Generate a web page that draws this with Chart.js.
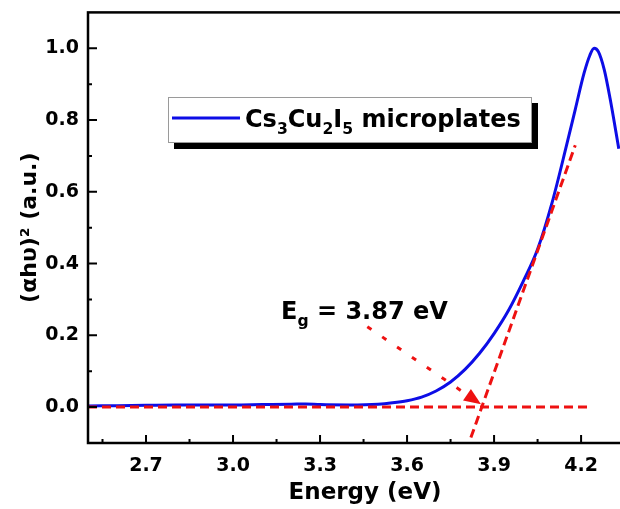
<!DOCTYPE html>
<html>
<head>
<meta charset="utf-8">
<script src="https://cdn.jsdelivr.net/npm/chart.js@4.4.1/dist/chart.umd.min.js"></script>
<style>
  html, body { margin: 0; padding: 0; background: #fff; overflow: hidden; }
</style>
</head>
<body>
<canvas id="taucChart" width="642" height="509"></canvas>
<script>
// Tauc plot data: photon energy (eV) vs normalised (αhυ)²
const energy = [2.50, 2.60, 2.70, 2.80, 2.90, 3.00, 3.10, 3.20, 3.25, 3.30, 3.40, 3.50, 3.55, 3.60, 3.65, 3.70, 3.75, 3.80, 3.85, 3.90, 3.95, 4.00, 4.05, 4.10, 4.15, 4.18, 4.21, 4.23, 4.245, 4.26, 4.28, 4.30, 4.33];
const absorbance = [0.003, 0.004, 0.005, 0.006, 0.006, 0.006, 0.007, 0.008, 0.009, 0.007, 0.006, 0.008, 0.012, 0.018, 0.028, 0.045, 0.070, 0.105, 0.150, 0.205, 0.270, 0.350, 0.440, 0.570, 0.730, 0.830, 0.930, 0.980, 1.000, 0.990, 0.940, 0.860, 0.720];

// linear fit of the absorption edge and the baseline
const tangentX = [3.82, 4.18];
const tangentY = [-0.085, 0.73];
const baselineX = [2.50, 4.235];
const baselineY = [0, 0];

// pointer from the label to the intercept
const arrowX = [3.463, 3.855];
const arrowY = [0.224, 0.008];
const bandGap = "3.87";

// axis ticks
const xMajorTicks = [2.7, 3.0, 3.3, 3.6, 3.9, 4.2];
const xMinorTicks = [2.55, 2.85, 3.15, 3.45, 3.75, 4.05, 4.35];
const yMajorTicks = [0.0, 0.2, 0.4, 0.6, 0.8, 1.0];
const yMinorTicks = [0.1, 0.3, 0.5, 0.7, 0.9];

const sampleName = [{ t: "Cs" }, { t: "3", sub: true }, { t: "Cu" }, { t: "2", sub: true }, { t: "I" }, { t: "5", sub: true }, { t: " microplates" }];

const FONT = "'DejaVu Sans', sans-serif";
const BLUE = "#0d0de6";
const RED = "#ee1111";

const toPoints = (xs, ys) => xs.map((x, i) => ({ x, y: ys[i] }));

// text with subscripts, returns end x
function drawRich(ctx, parts, x, y, size) {
    ctx.textBaseline = "alphabetic";
    ctx.textAlign = "left";
    parts.forEach(p => {
        const s = p.sub ? size * 0.65 : size;
        ctx.font = `bold ${s}px ${FONT}`;
        ctx.fillText(p.t, x, p.sub ? y + size * 0.28 : y);
        x += ctx.measureText(p.t).width;
    });
    return x;
}

const decorations = {
    id: "decorations",
    afterDatasetsDraw(chart) {
        const { ctx, chartArea: a, scales: { x, y } } = chart;
        ctx.save();

        // arrow head at the intercept
        const p0 = { x: x.getPixelForValue(arrowX[0]), y: y.getPixelForValue(arrowY[0]) };
        const p1 = { x: x.getPixelForValue(arrowX[1]), y: y.getPixelForValue(arrowY[1]) };
        const ang = Math.atan2(p1.y - p0.y, p1.x - p0.x);
        const len = 17, half = 7;
        ctx.fillStyle = RED;
        ctx.beginPath();
        ctx.moveTo(p1.x, p1.y);
        ctx.lineTo(p1.x - len * Math.cos(ang) + half * Math.sin(ang), p1.y - len * Math.sin(ang) - half * Math.cos(ang));
        ctx.lineTo(p1.x - len * Math.cos(ang) - half * Math.sin(ang), p1.y - len * Math.sin(ang) + half * Math.cos(ang));
        ctx.closePath();
        ctx.fill();

        // frame
        ctx.strokeStyle = "#000";
        ctx.lineWidth = 2.5;
        ctx.strokeRect(a.left, a.top, a.right - a.left, a.bottom - a.top);

        // inward ticks
        ctx.lineWidth = 2;
        ctx.beginPath();
        xMajorTicks.forEach(v => { const px = x.getPixelForValue(v); ctx.moveTo(px, a.bottom); ctx.lineTo(px, a.bottom - 8); });
        xMinorTicks.forEach(v => { const px = x.getPixelForValue(v); ctx.moveTo(px, a.bottom); ctx.lineTo(px, a.bottom - 4); });
        yMajorTicks.forEach(v => { const py = y.getPixelForValue(v); ctx.moveTo(a.left, py); ctx.lineTo(a.left + 9, py); });
        yMinorTicks.forEach(v => { const py = y.getPixelForValue(v); ctx.moveTo(a.left, py); ctx.lineTo(a.left + 4, py); });
        ctx.stroke();

        // legend box with drop shadow
        const bx = 168, by = 97, bw = 364, bh = 46;
        ctx.fillStyle = "#000";
        ctx.fillRect(bx + 6, by + 6, bw, bh);
        ctx.fillStyle = "#fff";
        ctx.fillRect(bx, by, bw, bh);
        ctx.strokeStyle = "#9a9a9a";
        ctx.lineWidth = 1;
        ctx.strokeRect(bx + 0.5, by + 0.5, bw - 1, bh - 1);
        ctx.strokeStyle = BLUE;
        ctx.lineWidth = 3;
        ctx.beginPath();
        ctx.moveTo(bx + 4, by + 21);
        ctx.lineTo(bx + 72, by + 21);
        ctx.stroke();
        ctx.fillStyle = "#000";
        drawRich(ctx, sampleName, bx + 77, by + 30, 24);

        // band gap label
        drawRich(ctx, [{ t: "E" }, { t: "g", sub: true }, { t: ` = ${bandGap} eV` }], 281, 319, 24);

        ctx.restore();
    }
};

new Chart(document.getElementById("taucChart"), {
    type: "line",
    data: {
        datasets: [
            {
                label: "Cs3Cu2I5 microplates",
                data: toPoints(energy, absorbance),
                borderColor: BLUE,
                borderWidth: 3,
                pointRadius: 0,
                cubicInterpolationMode: "monotone",
                order: 3
            },
            {
                label: "fit",
                data: toPoints(tangentX, tangentY),
                borderColor: RED,
                borderWidth: 3,
                borderDash: [9, 5],
                pointRadius: 0,
                order: 1
            },
            {
                label: "baseline",
                data: toPoints(baselineX, baselineY),
                borderColor: RED,
                borderWidth: 3,
                borderDash: [9, 5],
                pointRadius: 0,
                order: 1
            },
            {
                label: "pointer",
                data: toPoints(arrowX, arrowY),
                borderColor: RED,
                borderWidth: 3,
                borderDash: [5, 13],
                pointRadius: 0,
                order: 1
            }
        ]
    },
    options: {
        responsive: false,
        animation: false,
        layout: { padding: { top: 7, right: 0, left: 0, bottom: 0 } },
        plugins: { legend: { display: false }, tooltip: { enabled: false } },
        scales: {
            x: {
                type: "linear",
                min: 2.5,
                max: 4.41,
                grid: { display: false },
                border: { display: false },
                afterBuildTicks: s => { s.ticks = xMajorTicks.map(v => ({ value: v })); },
                afterFit: s => { s.height = 66; },
                ticks: {
                    padding: 4,
                    color: "#000",
                    font: { family: FONT, size: 19, weight: "bold" },
                    callback: v => v.toFixed(1)
                },
                title: {
                    display: true,
                    text: "Energy (eV)",
                    color: "#000",
                    font: { family: FONT, size: 23, weight: "bold" },
                    padding: { top: 0, bottom: 2 }
                }
            },
            y: {
                min: -0.1,
                max: 1.1,
                grid: { display: false },
                border: { display: false },
                afterBuildTicks: s => { s.ticks = yMajorTicks.map(v => ({ value: v })); },
                afterFit: s => { s.width = 88; },
                ticks: {
                    padding: 1,
                    color: "#000",
                    font: { family: FONT, size: 19, weight: "bold" },
                    callback: v => v.toFixed(1)
                },
                title: {
                    display: true,
                    text: "(αhυ)² (a.u.)",
                    color: "#000",
                    font: { family: FONT, size: 22, weight: "bold" },
                    padding: { top: 17, bottom: 0 }
                }
            }
        }
    },
    plugins: [decorations]
});
</script>
</body>
</html>
